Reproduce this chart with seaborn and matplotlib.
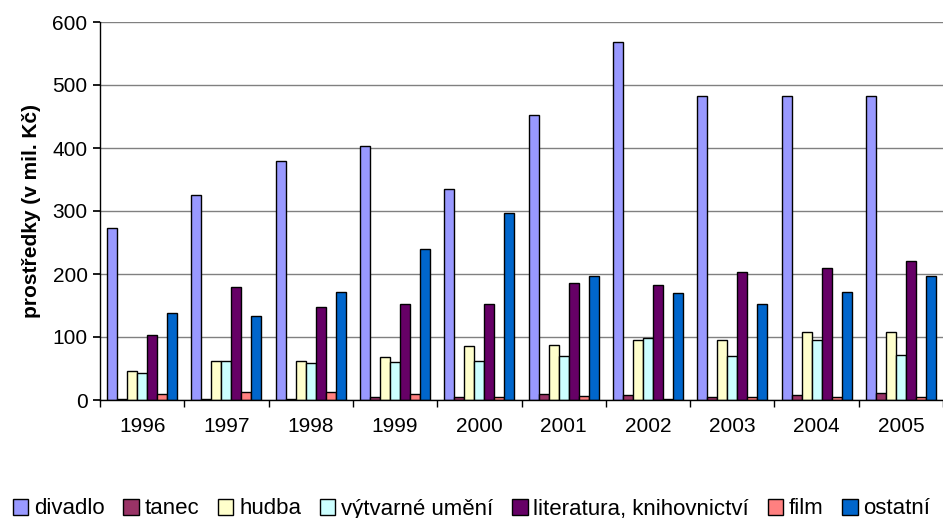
import matplotlib
matplotlib.use("Agg")
import matplotlib.pyplot as plt
import seaborn as sns
import pandas as pd
import numpy as np

years = ["1996", "1997", "1998", "1999", "2000", "2001", "2002", "2003", "2004", "2005"]
categories = ["divadlo", "tanec", "hudba", "výtvarné umění", "literatura, knihovnictví", "film", "ostatní"]
divadlo = [273, 325, 380, 403, 335, 452, 568, 482, 482, 482]
tanec = [2, 2, 2, 5, 5, 10, 8, 5, 8, 11]
hudba = [46, 62, 62, 69, 85, 87, 95, 95, 108, 108]
vytvarne = [43, 62, 59, 61, 62, 70, 98, 70, 95, 72]
literatura = [103, 180, 148, 153, 153, 185, 182, 203, 210, 220]
film = [10, 13, 13, 10, 5, 7, 2, 4, 4, 5]
ostatni = [138, 133, 172, 240, 297, 197, 170, 153, 172, 197]
colors = ["#9999FF", "#993366", "#FFFFCC", "#CCFFFF", "#660066", "#FF8080", "#0066CC"]

series = [divadlo, tanec, hudba, vytvarne, literatura, film, ostatni]
rows = []
for cat, vals in zip(categories, series):
    for y, v in zip(years, vals):
        rows.append({"rok": y, "kategorie": cat, "hodnota": v})
df = pd.DataFrame(rows)

sns.set_theme(style="white")
plt.rcParams["font.family"] = ["Liberation Sans", "DejaVu Sans"]
plt.rcParams["text.color"] = "black"
plt.rcParams["xtick.color"] = "black"
plt.rcParams["ytick.color"] = "black"
plt.rcParams["axes.labelcolor"] = "black"

fig = plt.figure(figsize=(9.43, 5.18), dpi=100)
ax = fig.add_axes([100 / 943, 118 / 518, 843 / 943, 378 / 518])

sns.barplot(data=df, x="rok", y="hodnota", hue="kategorie", order=years,
            hue_order=categories, palette=colors, width=0.83,
            edgecolor="black", linewidth=1.0, saturation=1, ax=ax, legend=True)

ax.set_ylim(0, 600)
ax.set_xlim(-0.5, 9.5)
ax.set_yticks(range(0, 601, 100))
ax.yaxis.grid(True, color="#808080", linewidth=1)
ax.set_axisbelow(True)
for s in ["top", "right"]:
    ax.spines[s].set_visible(False)
for s in ["left", "bottom"]:
    ax.spines[s].set_color("black")
    ax.spines[s].set_linewidth(1)

ax.set_xticks(range(len(years)))
ax.set_xticklabels(years)
ax.set_xticks(np.arange(-0.5, 10, 1), minor=True)
ax.tick_params(axis="x", which="major", length=0, pad=12, labelsize=15)
ax.tick_params(axis="x", which="minor", length=5, direction="out", color="black", bottom=True)
ax.tick_params(axis="y", length=5, direction="out", color="black", left=True, labelsize=15, pad=4)
ax.set_xlabel("")
ax.set_ylabel("prostředky (v mil. Kč)", fontsize=15, fontweight="bold", labelpad=8)

handles, labels = ax.get_legend_handles_labels()
ax.legend_.remove()
fig.legend(handles, labels, loc="center", bbox_to_anchor=(0.5, 1 - 509 / 518), ncol=7,
           frameon=False, fontsize=16, handlelength=0.7, handleheight=0.7,
           handletextpad=0.25, columnspacing=0.85, borderaxespad=0, borderpad=0)

fig.savefig("out.png", dpi=100)
